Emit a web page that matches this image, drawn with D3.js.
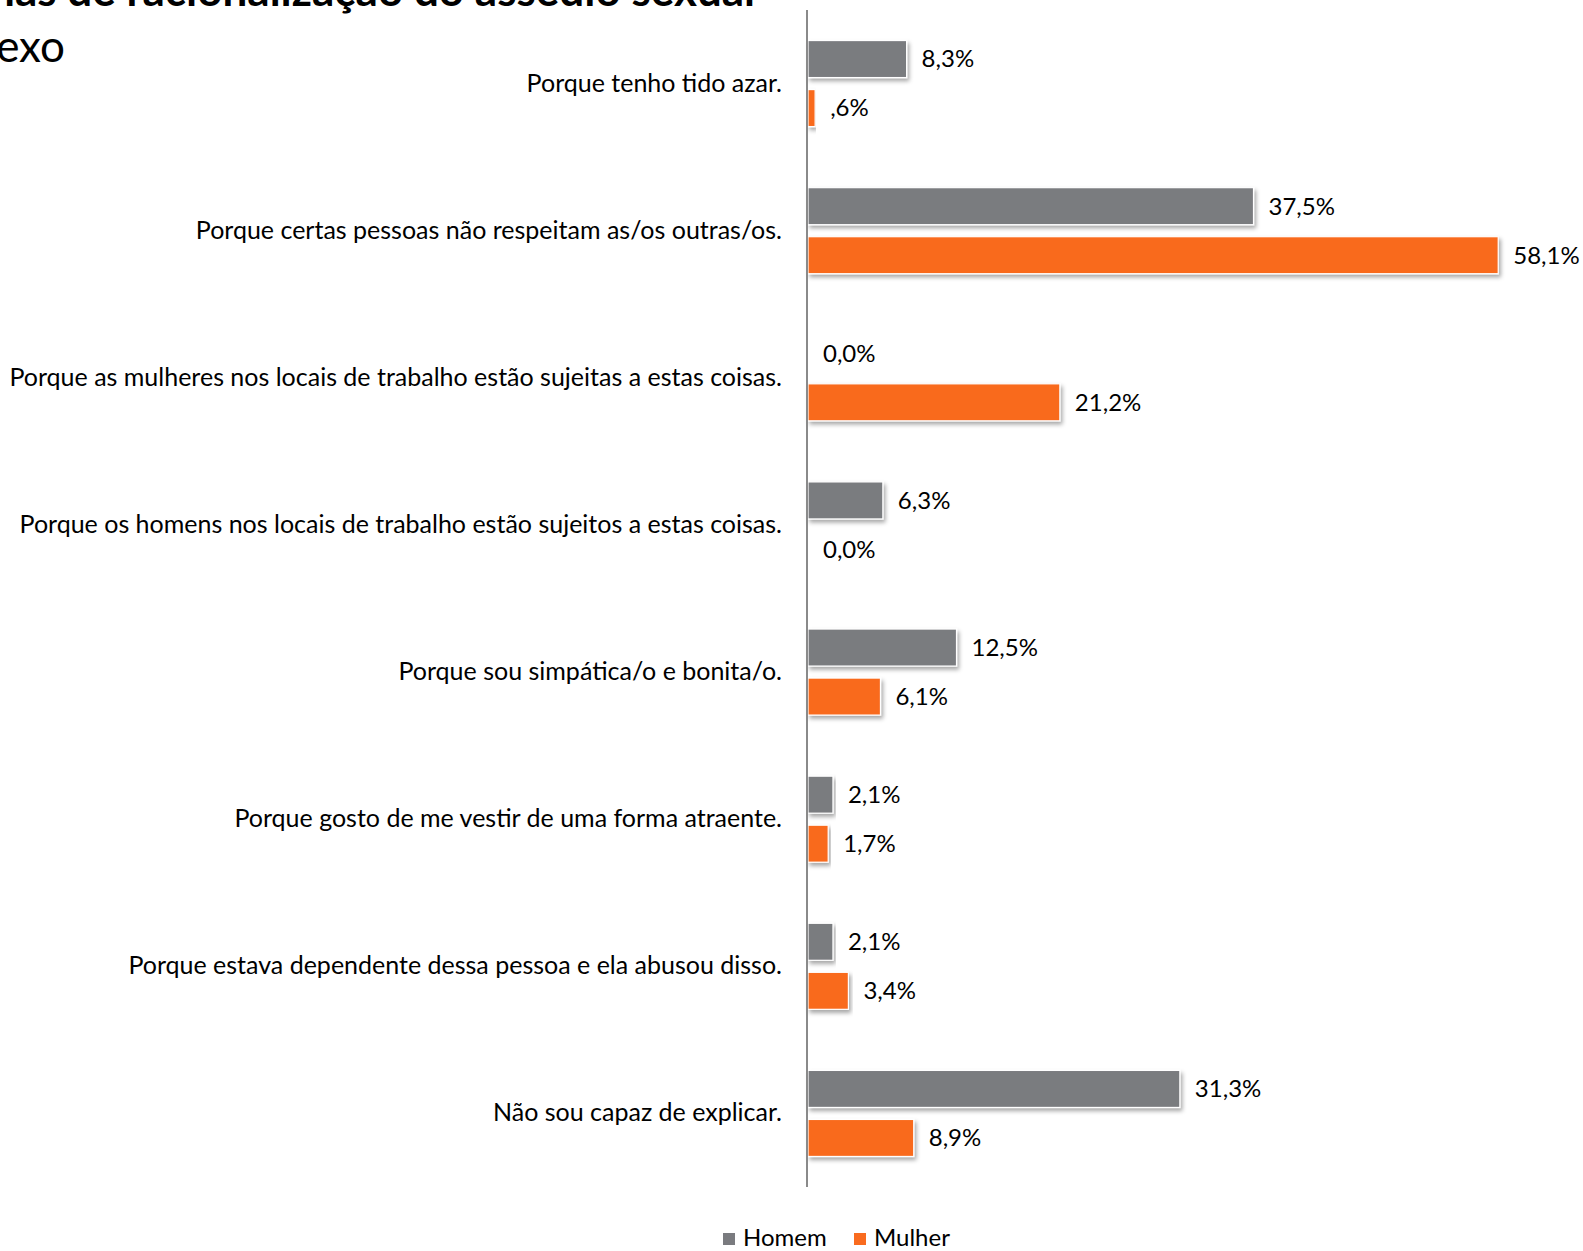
<!DOCTYPE html>
<html><head><meta charset="utf-8">
<script src="https://cdn.jsdelivr.net/npm/d3@7"></script>
<style>
html,body{margin:0;padding:0;background:#fff;overflow:hidden}
text{font-family:Lato,"Open Sans",sans-serif;fill:#000}
</style></head>
<body>
<svg id="chart" width="1583" height="1251"></svg>
<script>
const categories = [
  "Porque tenho tido azar.",
  "Porque certas pessoas não respeitam as/os outras/os.",
  "Porque as mulheres nos locais de trabalho estão sujeitas a estas coisas.",
  "Porque os homens nos locais de trabalho estão sujeitos a estas coisas.",
  "Porque sou simpática/o e bonita/o.",
  "Porque gosto de me vestir de uma forma atraente.",
  "Porque estava dependente dessa pessoa e ela abusou disso.",
  "Não sou capaz de explicar."
];
const seriesNames = ["Homem", "Mulher"];
const homem  = [8.3, 37.5, 0.0, 6.3, 12.5, 2.1, 2.1, 31.3];
const mulher = [0.6, 58.1, 21.2, 0.0, 6.1, 1.7, 3.4, 8.9];
const colors = ["#7a7b7f", "#f96b1f"];
const titleLine1 = "Formas de racionalização do assédio sexual";
const titleLine2 = "por sexo";

const svg = d3.select("#chart");
const defs = svg.append("defs");
const f = defs.append("filter").attr("id","sh").attr("x","-5%").attr("y","-20%").attr("width","115%").attr("height","160%");
f.append("feDropShadow").attr("dx",2).attr("dy",3).attr("stdDeviation",2).attr("flood-color","#000").attr("flood-opacity",0.35);

const x0 = 807;
const x = d3.scaleLinear().domain([0, 60]).range([x0, x0 + 60 * 11.88]);
const y = d3.scaleBand().domain(categories).range([10, 1187]).paddingInner(0).paddingOuter(0);
const ys = d3.scaleBand().domain(seriesNames).range([0, y.bandwidth()]).paddingInner(0.245).paddingOuter(0.623);

const fmt = v => {
  let s = d3.format(".1f")(v).replace(".", ",");
  if (v > 0 && v < 1) s = s.replace(/^0/, "");
  return s + "%";
};

// Title (clipped at page edge as in reference)
svg.append("text").attr("x", 755).attr("y", 6).attr("text-anchor","end")
  .style("font-size","44px").style("font-weight","bold").text(titleLine1);
svg.append("text").attr("x", 65).attr("y", 62).attr("text-anchor","end")
  .style("font-size","44px").text(titleLine2);

const data = categories.map((c, i) => ({cat: c, vals: [homem[i], mulher[i]]}));

const g = svg.append("g");
data.forEach(d => {
  d.vals.forEach((v, j) => {
    const yy = y(d.cat) + ys(seriesNames[j]);
    if (v > 0) {
      g.append("rect").attr("x", x(0) + 1).attr("y", yy)
        .attr("width", x(v) - x(0)).attr("height", ys.bandwidth())
        .attr("fill", colors[j]).attr("stroke","#fff").attr("stroke-width",1.2)
        .attr("filter","url(#sh)");
    }
    g.append("text").attr("x", x(v) + 16).attr("y", yy + ys.bandwidth()/2)
      .attr("dy","0.35em").style("font-size","24px").text(fmt(v));
  });
});

// category labels
const yAxis = d3.axisLeft(y).tickSize(0).tickPadding(25);
const ax = svg.append("g").attr("transform", `translate(${x0},0)`).call(yAxis);
ax.select(".domain").remove();
ax.selectAll("text").style("font-size","25px").style("font-family","Lato,'Open Sans',sans-serif").attr("fill","#000");

svg.append("line").attr("x1", x0).attr("x2", x0).attr("y1", 10).attr("y2", 1187)
  .attr("stroke","#8a8a8a").attr("stroke-width",2);

// legend
const leg = svg.append("g");
const legX = [723, 854];
seriesNames.forEach((s, j) => {
  leg.append("rect").attr("x", legX[j]).attr("y", 1233).attr("width", 12).attr("height", 12).attr("fill", colors[j]);
  leg.append("text").attr("x", legX[j] + 20).attr("y", 1238).attr("dy","0.35em").style("font-size","24px").text(s);
});
</script>
</body></html>
